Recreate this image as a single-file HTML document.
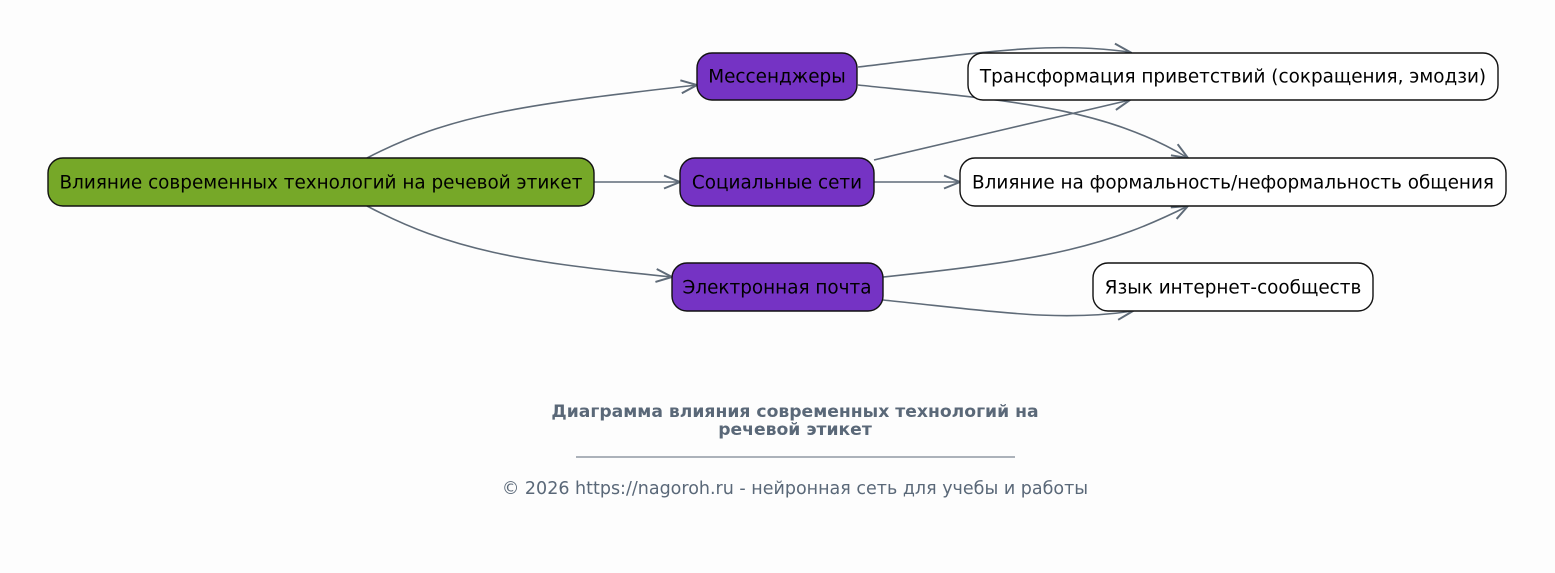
<!DOCTYPE html>
<html><head><meta charset="utf-8"><style>
html,body{margin:0;padding:0;background:#fdfdfd;}
svg{display:block;font-family:"DejaVu Sans","Liberation Sans",sans-serif;}
</style></head><body>
<svg width="1555" height="573" viewBox="0 0 1555 573" xmlns="http://www.w3.org/2000/svg">
<defs>
<marker id="a" markerWidth="20" markerHeight="16" refX="18" refY="8" orient="auto" markerUnits="userSpaceOnUse">
<path d="M2,1.5 L18,8 L2,14.5" fill="none" stroke="#5f6b78" stroke-width="2"/>
</marker>
</defs>
<rect width="1555" height="573" fill="#fdfdfd"/>
<g fill="none" stroke="#5f6b78" stroke-width="1.6" marker-end="url(#a)">
<path d="M367,158 C450,115 520,105 697,85"/>
<path d="M594,182 L680,182"/>
<path d="M367,206 C450,250 520,262 672,277"/>
<path d="M858,67 C1000,50 1050,42 1130,52"/>
<path d="M858,85 C1000,100 1100,105 1188,158"/>
<path d="M874,160 L1130,100"/>
<path d="M874,182 L960,182"/>
<path d="M883,277 C1050,260 1110,245 1188,206"/>
<path d="M883,300 C1000,312 1060,322 1133,311"/>
</g>
<g stroke="#111" stroke-width="1.4">
<rect x="48" y="158" width="546" height="48" rx="15" fill="#76a828"/>
<rect x="697" y="53" width="160" height="47" rx="15" fill="#7533c4"/>
<rect x="680" y="158" width="194" height="48" rx="15" fill="#7533c4"/>
<rect x="672" y="263" width="211" height="48" rx="15" fill="#7533c4"/>
<rect x="968" y="53" width="530" height="47" rx="15" fill="#fff"/>
<rect x="960" y="158" width="546" height="48" rx="15" fill="#fff"/>
<rect x="1093" y="263" width="280" height="48" rx="15" fill="#fff"/>
</g>
<g font-size="18.4" fill="#000" text-anchor="middle">
<text x="321" y="188.5">Влияние современных технологий на речевой этикет</text>
<text x="777" y="82.5">Мессенджеры</text>
<text x="777" y="188.5">Социальные сети</text>
<text x="777" y="293.5">Электронная почта</text>
<text x="1233" y="82.5">Трансформация приветствий (сокращения, эмодзи)</text>
<text x="1233" y="188.5">Влияние на формальность/неформальность общения</text>
<text x="1233" y="293.5">Язык интернет-сообществ</text>
</g>
<g fill="#5a6878" text-anchor="middle">
<text x="795" y="417" font-size="17.2" font-weight="bold">Диаграмма влияния современных технологий на</text>
<text x="795" y="435" font-size="17.2" font-weight="bold">речевой этикет</text>
<line x1="576" y1="457" x2="1015" y2="457" stroke="#5a6878" stroke-width="1"/>
<text x="795" y="494" font-size="17.5">© 2026 https://nagoroh.ru - нейронная сеть для учебы и работы</text>
</g>
</svg>
</body></html>
